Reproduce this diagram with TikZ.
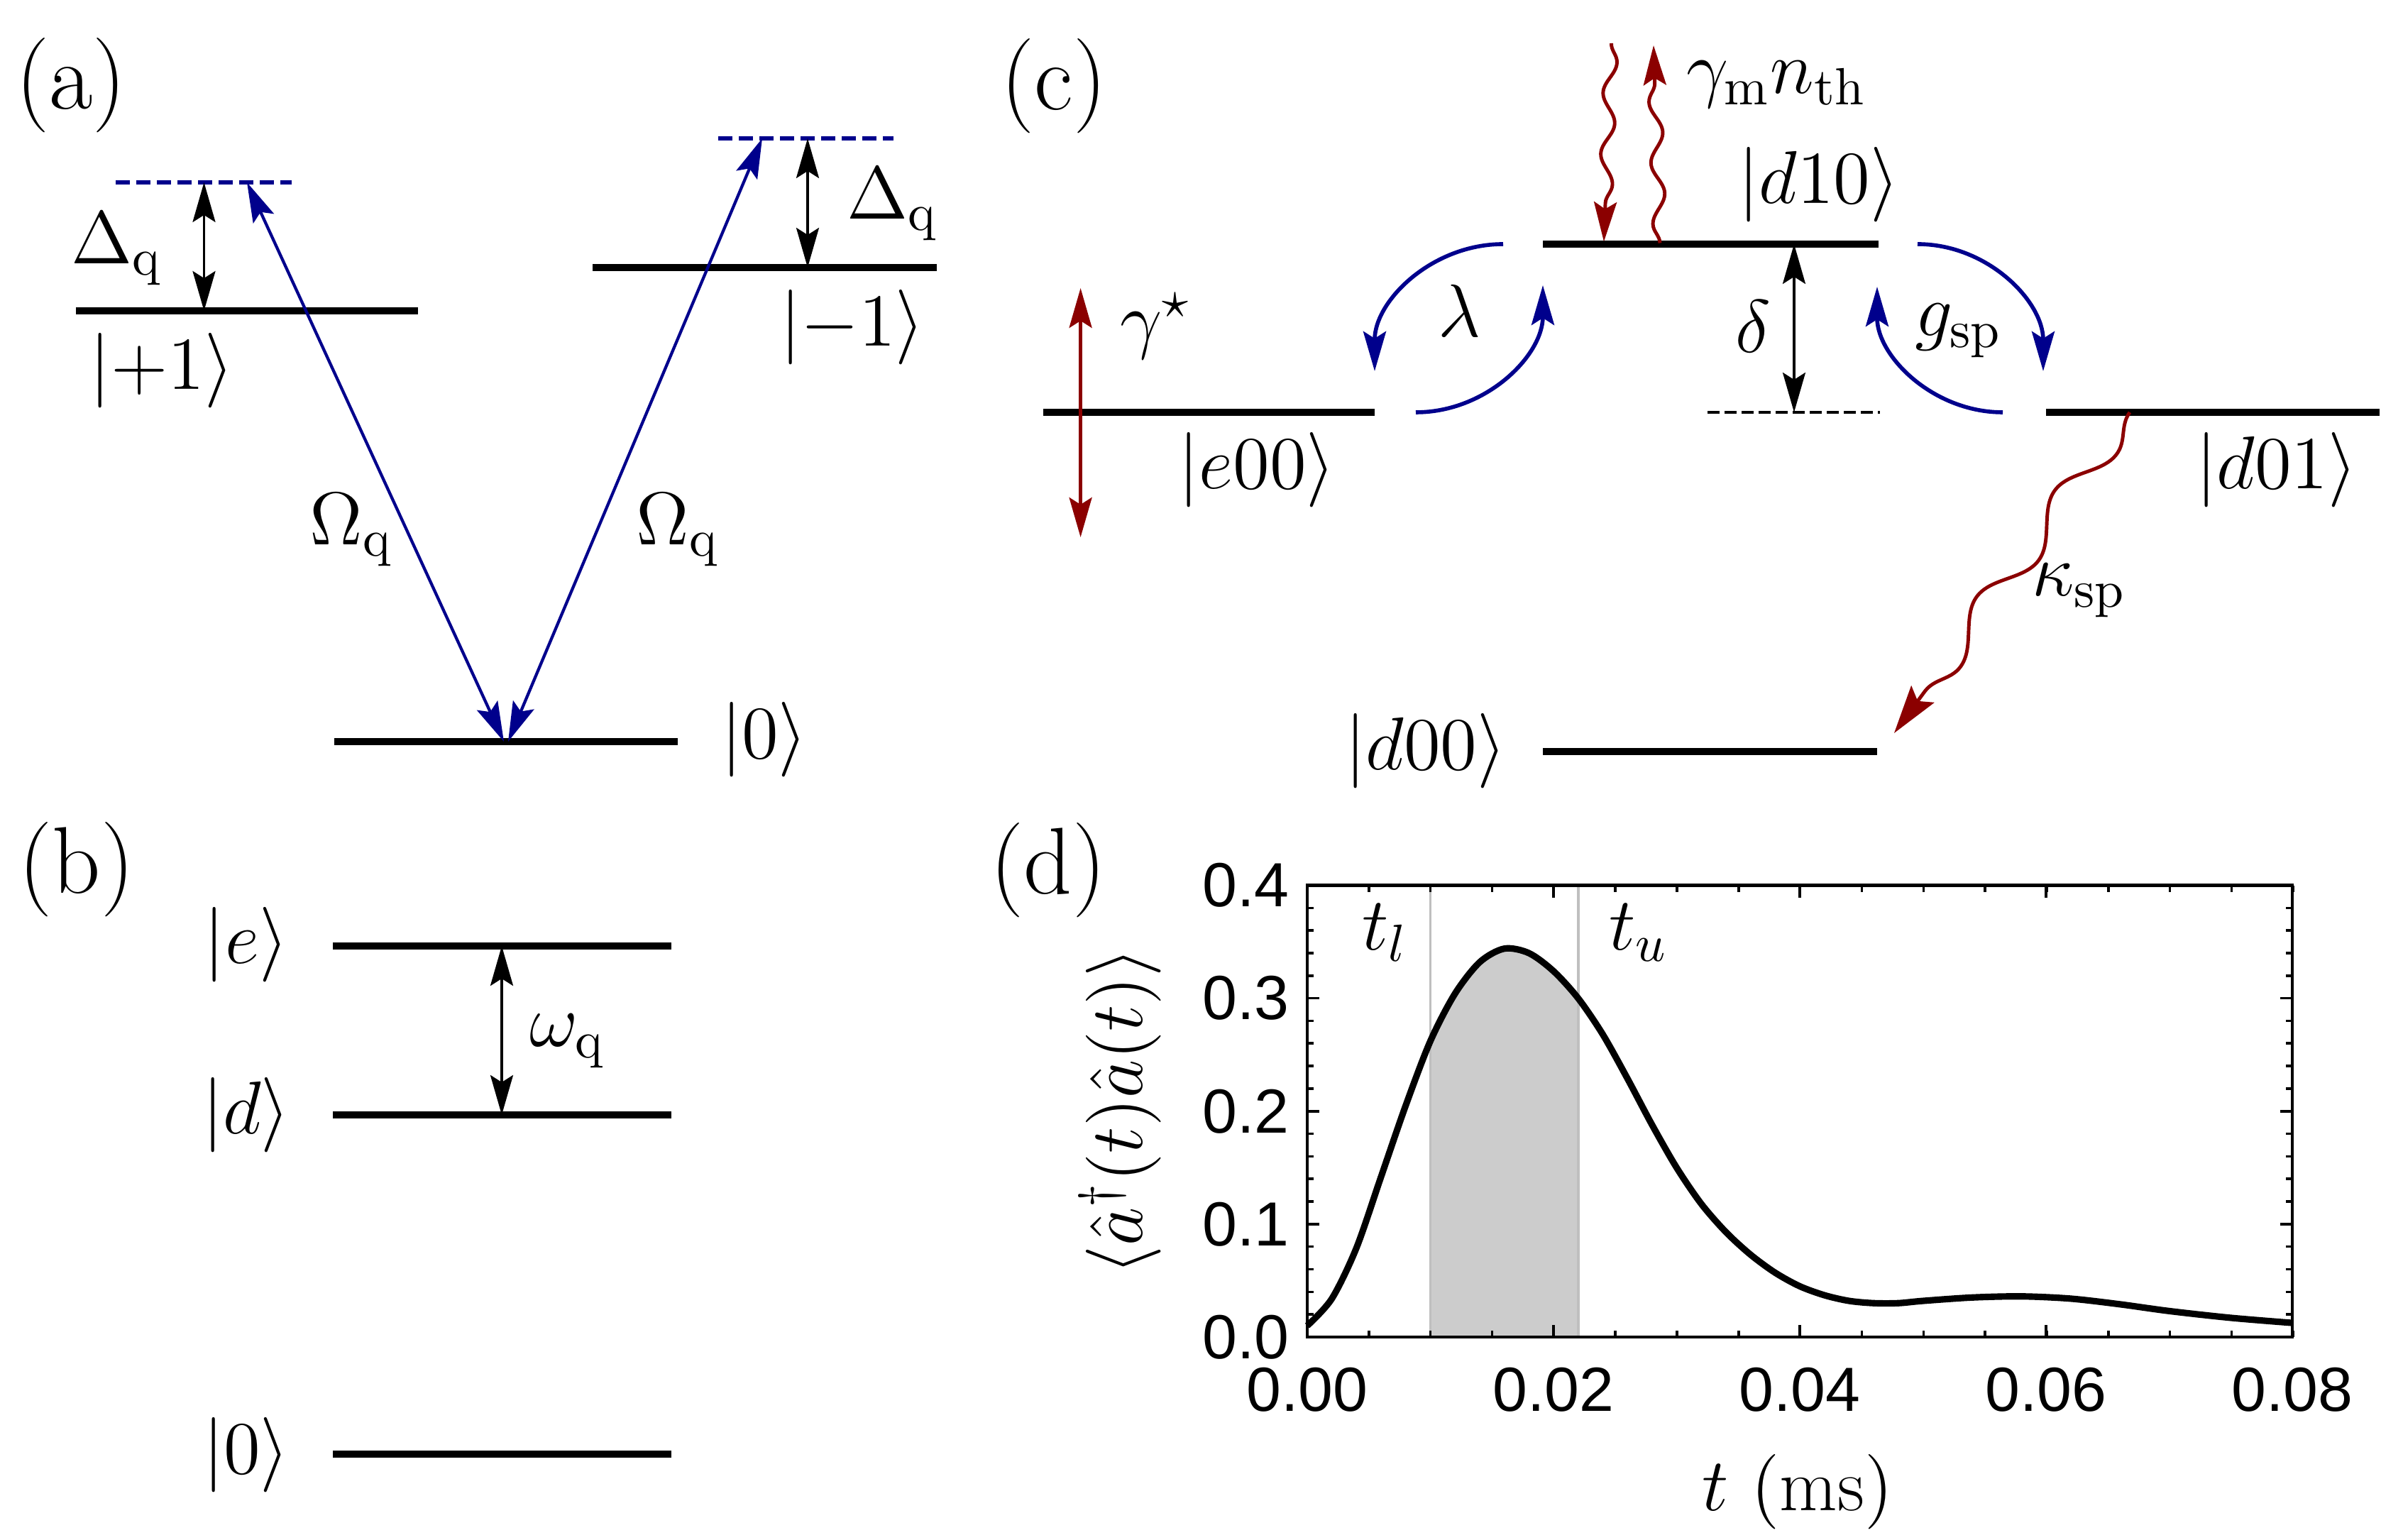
\RequirePackage{fix-cm}
\documentclass[tikz,border=0pt]{standalone}
\usepackage{amsmath,amssymb}
\usepackage{fontspec}
\newfontfamily\plotfont{Liberation Sans}
\usepackage{tikz}
\usetikzlibrary{arrows.meta,decorations.pathmorphing,positioning}
\definecolor{darkblue}{RGB}{0,0,140}
\definecolor{darkred}{RGB}{139,0,0}
\tikzset{%
  lvl/.style={line width=1.5pt},% energy level
  virt/.style={darkblue, line width=0.8pt, dash pattern=on 0.1cm off 0.045cm},% virtual level
  dlvl/.style={line width=0.7pt, dash pattern=on 0.085cm off 0.035cm},% detuned level
  gaparrow/.style={<->, line width=0.5pt},% splitting
  drivearrow/.style={<->, darkblue, line width=0.6pt},% drive in (a)
  hoparrow/.style={->, darkblue, line width=0.8pt},% coupling arcs in (c)
  dephase/.style={<->, darkred, line width=0.6pt},
  wavearrow/.style={->, darkred, line width=0.7pt, decorate,
    decoration={snake, amplitude=0.45mm, segment length=4.3mm, post length=2mm}},
  decayarrow/.style={-{Stealth[length=3.4mm,width=2mm,inset=0.6mm]}, darkred, line width=0.7pt, decorate,
    decoration={snake, amplitude=1mm, segment length=9.3mm, post length=2.5mm}},
  ketlab/.style={font=\fontsize{15}{18}\selectfont, inner sep=0pt},
  panellab/.style={font=\fontsize{19}{23}\selectfont, inner sep=0pt},
  ticklab/.style={font=\plotfont\fontsize{12.5}{15}\selectfont, inner sep=0pt}
}
\newcommand*{\pulse}{plot[smooth] coordinates {(0,0.010) (0.002,0.034) (0.004,0.079)
  (0.006,0.142) (0.008,0.205) (0.010,0.262) (0.012,0.304) (0.014,0.332) (0.016,0.344)
  (0.018,0.340) (0.020,0.324) (0.022,0.300) (0.024,0.268) (0.026,0.229) (0.028,0.188)
  (0.030,0.150) (0.032,0.118) (0.034,0.093) (0.036,0.073) (0.038,0.057) (0.040,0.045)
  (0.042,0.037) (0.044,0.032) (0.046,0.030) (0.048,0.030) (0.050,0.032) (0.054,0.035)
  (0.058,0.036) (0.062,0.034) (0.066,0.029) (0.070,0.023) (0.075,0.017) (0.080,0.0125)}}

\begin{document}
\begin{tikzpicture}[>={Stealth[length=2.8mm,width=1.6mm,inset=0.5mm]}]
\useasboundingbox (0,0) rectangle (16.93,10.85);

% (a)
\node[panellab] (pa) at (0.5,10.25) {(a)};
\draw[lvl] (0.535,8.66) -- (2.945,8.66);
\draw[lvl] (4.175,8.965) -- (6.60,8.965);
\draw[lvl] (2.355,5.625) -- (4.775,5.625);
\draw[virt] (0.815,9.565) -- (2.055,9.565);
\draw[virt] (5.06,9.875) -- (6.295,9.875);

\coordinate (pup) at (1.4375,9.565);
\coordinate (plo) at (1.4375,8.66);
\coordinate (mup) at (5.69,9.875);
\coordinate (mlo) at (5.69,8.965);
\coordinate (pv) at (1.74,9.565);
\coordinate (mv) at (5.37,9.875);
\coordinate (g1) at (3.55,5.625);
\coordinate (g2) at (3.58,5.625);

\draw[gaparrow] (pup) -- (plo);
\draw[gaparrow] (mup) -- (mlo);
\draw[drivearrow] (pv) -- (g1);
\draw[drivearrow] (mv) -- (g2);

\node[ketlab, anchor=base] (dl) at (0.825,8.99) {$\Delta_\mathrm{q}$};
\node[ketlab, anchor=base] (dr) at (6.29,9.305) {$\Delta_\mathrm{q}$};
\node[ketlab] (kp) at (1.14,8.24) {$|{+}1\rangle$};
\node[ketlab] (km) at (6.005,8.545) {$|{-}1\rangle$};
\node[ketlab] (k0) at (5.385,5.64) {$|0\rangle$};
\node[ketlab, anchor=base] (ol) at (2.475,7.01) {$\Omega_\mathrm{q}$};
\node[ketlab, anchor=base] (or) at (4.775,7.01) {$\Omega_\mathrm{q}$};

% (b)
\node[panellab] (pb) at (0.54,4.725) {(b)};
\draw[lvl] (2.345,4.185) -- (4.73,4.185);
\draw[lvl] (2.345,2.995) -- (4.73,2.995);
\draw[lvl] (2.345,0.605) -- (4.73,0.605);
\coordinate (eu) at (3.535,4.185);
\coordinate (dd) at (3.535,2.995);
\draw[gaparrow] (eu) -- (dd);
\node[ketlab] (ke) at (1.735,4.195) {$|e\rangle$};
\node[ketlab] (kd) at (1.735,2.995) {$|d\rangle$};
\node[ketlab] (kz) at (1.735,0.60) {$|0\rangle$};
\node[ketlab, anchor=base] (wq) at (4.0,3.475) {$\omega_\mathrm{q}$};

% (c)
\node[panellab] (pc) at (7.425,10.245) {(c)};
\draw[lvl] (10.87,9.13) -- (13.235,9.13);
\draw[lvl] (7.35,7.945) -- (9.685,7.945);
\draw[lvl] (14.415,7.945) -- (16.765,7.945);
\draw[lvl] (10.87,5.555) -- (13.225,5.555);
\draw[dlvl] (12.03,7.945) -- (13.245,7.945);

\coordinate (du) at (12.64,9.13);
\coordinate (dn) at (12.64,7.945);
\draw[gaparrow] (du) -- (dn);

\coordinate (su) at (7.613,8.82);
\coordinate (sd) at (7.613,7.065);
\draw[dephase] (su) -- (sd);

\coordinate (la1) at (10.59,9.13);
\coordinate (la2) at (9.685,8.235);
\coordinate (lb1) at (9.975,7.945);
\coordinate (lb2) at (10.87,8.84);
\coordinate (ga1) at (13.51,9.13);
\coordinate (ga2) at (14.395,8.235);
\coordinate (gb1) at (14.11,7.945);
\coordinate (gb2) at (13.225,8.83);
\draw[hoparrow] (la1) to[out=180, in=90] (la2);
\draw[hoparrow] (lb1) to[out=0, in=-90] (lb2);
\draw[hoparrow] (ga1) to[out=0, in=90] (ga2);
\draw[hoparrow] (gb1) to[out=180, in=-90] (gb2);

\coordinate (hin) at (11.3525,10.545);
\coordinate (hinE) at (11.30,9.147);
\coordinate (hout) at (11.695,9.1375);
\coordinate (houtE) at (11.65,10.53);
\draw[wavearrow] (hin) -- (hinE);
\draw[wavearrow] (hout) -- (houtE);

\coordinate (kap) at (15.005,7.945);
\coordinate (kapE) at (13.345,5.685);
\draw[decayarrow] (kap) -- (kapE);

\node[ketlab] (kd10) at (12.815,9.55) {$|d10\rangle$};
\node[ketlab] (ke00) at (8.855,7.54) {$|e00\rangle$};
\node[ketlab] (kd01) at (16.04,7.54) {$|d01\rangle$};
\node[ketlab] (kd00) at (10.045,5.56) {$|d00\rangle$};
\node[ketlab, anchor=base] (lam) at (10.285,8.475) {$\lambda$};
\node[ketlab, anchor=base] (del) at (12.35,8.365) {$\delta$};
\node[ketlab, anchor=base] (gsp) at (13.8,8.48) {$g_\mathrm{sp}$};
\node[ketlab, anchor=base] (gst) at (8.14,8.42) {$\gamma^\star$};
\node[ketlab, anchor=base] (gmn) at (12.515,10.19) {$\gamma_\mathrm{m} n_\mathrm{th}$};
\node[ketlab, anchor=base] (ksp) at (14.65,6.65) {$\kappa_\mathrm{sp}$};

% (d)
\node[panellab] (pd) at (7.385,4.7175) {(d)};
\begin{scope}[shift={(9.21,1.43)}, x=86.75cm, y=7.955cm]
  \begin{scope}
    \clip (0.01,0) rectangle (0.022,0.4);
    \fill[gray!40] \pulse -- (0.08,0) -- (0,0) -- cycle;
  \end{scope}
  \draw[gray!50, line width=0.5pt] (0.01,0) -- (0.01,0.4) (0.022,0) -- (0.022,0.4);
  \draw[line width=1.3pt] \pulse;
  \foreach \i in {0,...,16}
    \draw[line width=0.5pt] (\i*0.005,0) -- ++(0,0.045cm) (\i*0.005,0.4) -- ++(0,-0.045cm);
  \foreach \i in {0,...,4}
    \draw[line width=0.5pt] (\i*0.02,0) -- ++(0,0.085cm) (\i*0.02,0.4) -- ++(0,-0.085cm);
  \foreach \i in {0,...,20}
    \draw[line width=0.5pt] (0,\i*0.02) -- ++(0.045cm,0) (0.08,\i*0.02) -- ++(-0.045cm,0);
  \foreach \i in {0,...,4}
    \draw[line width=0.5pt] (0,\i*0.1) -- ++(0.085cm,0) (0.08,\i*0.1) -- ++(-0.085cm,0);
  \draw[line width=0.6pt] (0,0) rectangle (0.08,0.4);
  \foreach \x/\l [count=\i] in {0/0.00, 0.02/0.02, 0.04/0.04, 0.06/0.06, 0.08/0.08}
    \node[ticklab, yshift=-0.37cm] (xt\i) at (\x,0) {\l};
  \foreach \y/\l [count=\i] in {0/0.0, 0.1/0.1, 0.2/0.2, 0.3/0.3, 0.4/0.4}
    \node[ticklab, anchor=east, xshift=-0.12cm] (yt\i) at (0,\y) {\l};
\end{scope}
\node[ketlab, anchor=base] (tl) at (9.7575,4.155) {$t_l$};
\node[ketlab, anchor=base] (tu) at (11.545,4.155) {$t_u$};
\node[ketlab] (xlab) at (12.665,0.34) {$t\ (\mathrm{ms})$};
\node[ketlab, rotate=90] (ylab) at (7.89,3.02) {$\langle\hat{a}^\dagger(t)\hat{a}(t)\rangle$};

\end{tikzpicture}
\end{document}
